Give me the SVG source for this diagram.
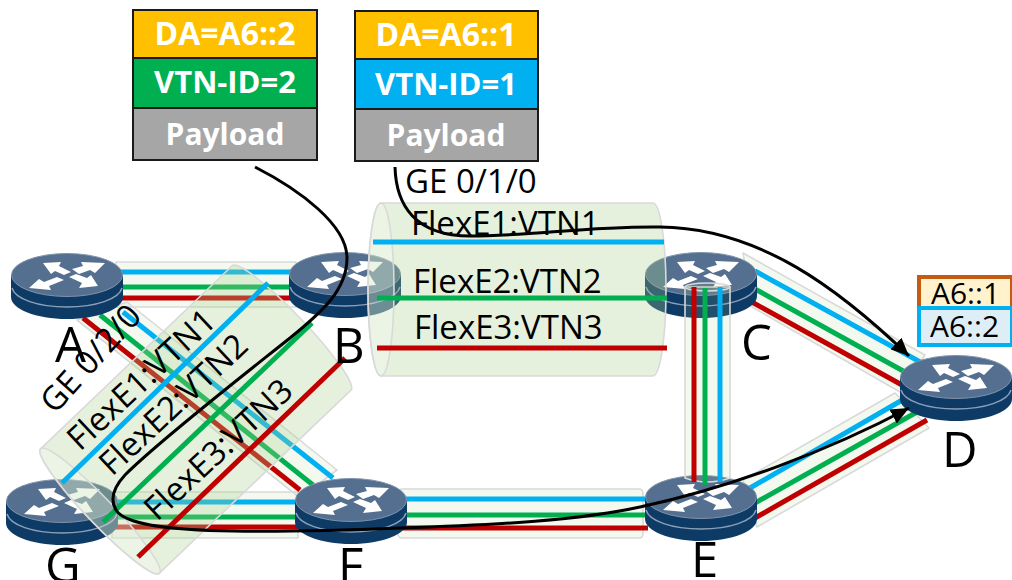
<svg xmlns="http://www.w3.org/2000/svg" width="1012" height="580" viewBox="0 0 1012 580">
<style>
.t{fill:#a9d18e;fill-opacity:.14;stroke:#d9d9d9;stroke-width:1.6;stroke-linejoin:round}
.T{fill:#a9d18e;fill-opacity:.3;stroke:#d9d9d9;stroke-width:1.6;stroke-linejoin:round}
.cap{fill:#fff;fill-opacity:.25;stroke:#d9d9d9;stroke-width:1.6}
.b{stroke:#00b0f0;stroke-width:5;fill:none}
.g{stroke:#00b050;stroke-width:5;fill:none}
.r{stroke:#c00000;stroke-width:5;fill:none}
text{font-family:"Open Sans","Noto Sans","DejaVu Sans",sans-serif;fill:#000}
.L{font-size:49px}
.M{font-size:33px}
.S{font-size:30px}
.W{font-weight:700;fill:#fff;text-anchor:middle}
.d{font-size:32px}
.v{font-size:31px}
.p{font-size:30px}
.box{stroke:#1a1a1a;stroke-width:2}
.cv{fill:none;stroke:#000;stroke-width:3}
</style>
<defs>
<marker id="ah" markerUnits="userSpaceOnUse" markerWidth="20" markerHeight="16" refX="18" refY="8" orient="auto"><path d="M0,0L18,8L0,16Z" fill="#000"/></marker>
<g id="router">
<path d="M0,22V44C0,56 25,66 56,66C87,66 112,56 112,44V22Z" fill="#0e3a66"/>
<path d="M1,35C4,46 27,54 56,54C85,54 108,46 111,35" fill="none" stroke="#8ba0b8" stroke-width="1.500"/>
<ellipse cx="56" cy="22" rx="55.500" ry="21.500" fill="#546f8f" stroke="#7f93aa" stroke-width="1"/>
<g fill="#fff">
<path d="M61,16L72,13L70,9L94,10L84,20L79,17L68,21Z"/>
<path d="M53,22L44,18L40,21L32,10L50,9L48,13L60,19Z"/>
<path d="M46,24L53,27L38,33L40,37L18,35L28,26L33,29Z"/>
<path d="M58,24L65,21L76,25L80,22L87,33L68,35L71,30Z"/>
</g>
</g>
</defs>
<g id="connectors">
<rect class="t" x="116" y="262" width="180" height="45"/>
<path class="b" d="M118,272H292"/><path class="g" d="M118,287H292"/><path class="r" d="M118,298H292"/>
<rect class="t" x="112" y="492" width="186" height="46"/>
<path class="b" d="M112,502H298"/><path class="g" d="M112,517H298"/><path class="r" d="M112,527H298"/>
<path class="t" d="M77,320L127,302L337,470L300,498Z"/>
<path class="b" d="M123,312L333,478"/><path class="g" d="M100,315L313,485"/><path class="r" d="M83,318L300,490"/>
<rect class="t" x="398" y="489" width="245" height="49" rx="4"/>
<path class="b" d="M402,499H648"/><path class="g" d="M402,515H648"/><path class="r" d="M402,528H648"/>
<path class="t" d="M743,253L925,355L900,392L752,307Z"/>
<path class="b" d="M755,271L922,363"/><path class="g" d="M755,289L905,372"/><path class="r" d="M750,301L902,385"/>
<path class="t" d="M743,480L895,393L929,428L757,527Z"/>
<path class="b" d="M750,488L904,399"/><path class="g" d="M755,503L917,412"/><path class="r" d="M755,518L927,420"/>
</g>
<g id="node-A"><use href="#router" x="11" y="253"/></g>
<g id="node-B"><use href="#router" x="289" y="252"/></g>
<g id="node-C"><use href="#router" x="645" y="252"/></g>
<g id="node-D"><use href="#router" x="900" y="355"/></g>
<g id="node-E"><use href="#router" x="645" y="475"/></g>
<g id="node-F"><use href="#router" x="295" y="478"/></g>
<g id="node-G"><use href="#router" x="6" y="479"/></g>
<g id="tube-CE">
<path class="t" d="M685,287V478Q707,486 730,478V287Z"/>
<ellipse class="t" cx="707.500" cy="287" rx="22.500" ry="4"/>
<path class="r" d="M694,287V482"/><path class="g" d="M705,288V485"/><path class="b" d="M720,287V482"/>
</g>
<g id="tube-BC">
<path class="T" d="M381,203H653A13,86.500 0 0 1 653,376H381A13,86.500 0 0 1 381,203Z"/>
<ellipse class="cap" cx="381" cy="289.500" rx="13" ry="86.500"/>
<path class="b" d="M373,242H664"/><path class="g" d="M377,298H667"/><path class="r" d="M377,348H667"/>
</g>
<g id="tube-GB">
<g transform="translate(100,511) rotate(-43.700)">
<path class="T" d="M0,-86H265A13,86 0 0 1 265,86H0A13,86 0 0 1 0,-86Z"/>
<ellipse class="cap" cx="0" cy="0" rx="13" ry="86"/>
</g>
<path class="b" d="M62,483L268,283"/><path class="g" d="M103,522L312,323"/><path class="r" d="M138,557L345,358"/>
</g>
<g id="labels">
<text class="L" x="55" y="362">A</text>
<text class="L" x="333" y="363">B</text>
<text class="L" x="741" y="360">C</text>
<text class="L" x="942" y="467">D</text>
<text class="L" x="691" y="577">E</text>
<text class="L" x="338" y="583">F</text>
<text class="L" x="45" y="583">G</text>
<text class="M" x="405" y="193">GE 0/1/0</text>
<text class="M" x="411" y="235">FlexE1:VTN1</text>
<text class="M" x="413" y="293">FlexE2:VTN2</text>
<text class="M" x="414" y="339">FlexE3:VTN3</text>
<text class="M" transform="translate(55,415) rotate(-48)">GE 0/2/0</text>
<text class="M" transform="translate(80,452) rotate(-43)">FlexE1:VTN1</text>
<text class="M" transform="translate(112,477) rotate(-43)">FlexE2:VTN2</text>
<text class="M" transform="translate(157,522) rotate(-43)">FlexE3:VTN3</text>
</g>
<g id="packet-2">
<rect class="box" x="133" y="10" width="184" height="48" fill="#ffc000"/>
<rect class="box" x="133" y="58" width="184" height="50" fill="#00b050"/>
<rect class="box" x="133" y="108" width="184" height="52" fill="#a6a6a6"/>
<text class="W d" x="225" y="45">DA=A6::2</text>
<text class="W v" x="225" y="93">VTN-ID=2</text>
<text class="W p" x="225" y="145">Payload</text>
</g>
<g id="packet-1">
<rect class="box" x="355" y="11" width="183" height="48" fill="#ffc000"/>
<rect class="box" x="355" y="59" width="183" height="50" fill="#00b0f0"/>
<rect class="box" x="355" y="109" width="183" height="52" fill="#a6a6a6"/>
<text class="W d" x="446" y="46">DA=A6::1</text>
<text class="W v" x="446" y="95">VTN-ID=1</text>
<text class="W p" x="446" y="146">Payload</text>
</g>
<g id="addr-1">
<rect x="919" y="277" width="93" height="32" fill="#fff2cc" stroke="#c55a11" stroke-width="4"/>
<text class="S" x="931" y="304">A6::1</text>
</g>
<g id="addr-2">
<rect x="919" y="308" width="93" height="37" fill="#deeef6" stroke="#00b0f0" stroke-width="4"/>
<text class="S" x="930" y="337">A6::2</text>
</g>
<g id="flows">
<path class="cv" marker-end="url(#ah)" d="M255,167C300,190 347,225 347,258C347,290 322,312 290,338C250,370 160,440 125,475C113,488 110,500 116,510C125,525 170,530 233,531C300,532 350,530 400,528C500,525 580,520 640,507C730,488 830,450 909,408"/>
<path class="cv" marker-end="url(#ah)" d="M395,167C396,205 415,236 470,236C530,236 590,226 660,227C760,228 840,290 909,356"/>
</g>
</svg>
